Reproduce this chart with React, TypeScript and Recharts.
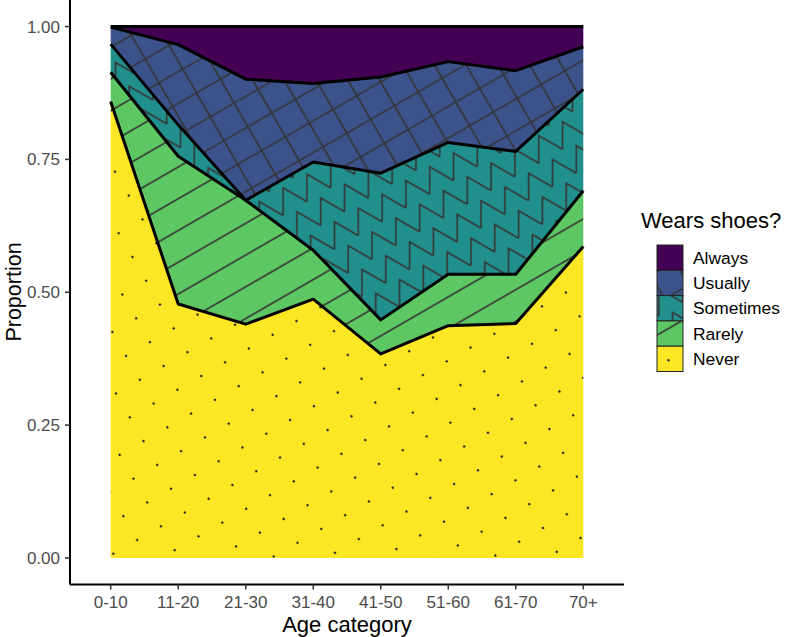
import { Area, AreaChart, XAxis, YAxis } from "recharts";

const ages = ["0-10", "11-20", "21-30", "31-40", "41-50", "51-60", "61-70", "70+"];

// proportions per age category, stacked bottom-up
const never = [0.859, 0.478, 0.44, 0.487, 0.384, 0.437, 0.441, 0.586];
const rarely = [0.055, 0.278, 0.233, 0.092, 0.064, 0.097, 0.093, 0.105];
const sometimes = [0.053, 0.059, 0.0, 0.166, 0.276, 0.248, 0.231, 0.191];
const usually = [0.032, 0.151, 0.228, 0.148, 0.181, 0.152, 0.152, 0.08];
const always = [0.001, 0.034, 0.099, 0.107, 0.095, 0.066, 0.083, 0.038];

const yTicks = [0, 0.25, 0.5, 0.75, 1];

const levels = [
  { key: "never", label: "Never", color: "#FDE725" },
  { key: "rarely", label: "Rarely", color: "#5DC863" },
  { key: "sometimes", label: "Sometimes", color: "#21908C" },
  { key: "usually", label: "Usually", color: "#3B528B" },
  { key: "always", label: "Always", color: "#440154" },
];

const data = ages.map((age, i) => ({
  age,
  never: never[i],
  rarely: rarely[i],
  sometimes: sometimes[i],
  usually: usually[i],
  always: always[i],
}));

const FONT = "'Liberation Sans', Arial, Helvetica, sans-serif";
const S = 27.5;
const H = S / 2;
const LINE = "#333333";

function Patterns({ prefix }: { prefix: string }) {
  const t = "rotate(-30)";
  return (
    <defs>
      <pattern id={`${prefix}-usually`} patternUnits="userSpaceOnUse" width={S} height={S} patternTransform={t}>
        <rect width={S} height={S} fill="#3B528B" />
        <path d={`M0 ${H}H${S}M${H} 0V${S}`} stroke={LINE} strokeWidth={1.6} fill="none" />
      </pattern>
      <pattern id={`${prefix}-sometimes`} patternUnits="userSpaceOnUse" width={S} height={S} patternTransform={t}>
        <rect width={S} height={S} fill="#21908C" />
        <path d={`M0 25.6L${H} 1.9L${S} 25.6`} stroke={LINE} strokeWidth={1.6} fill="none" />
      </pattern>
      <pattern id={`${prefix}-rarely`} patternUnits="userSpaceOnUse" width={S} height={S} patternTransform={t}>
        <rect width={S} height={S} fill="#5DC863" />
        <path d={`M0 ${H}H${S}`} stroke={LINE} strokeWidth={1.6} fill="none" />
      </pattern>
      <pattern id={`${prefix}-never`} patternUnits="userSpaceOnUse" width={S} height={S} patternTransform={t}>
        <rect width={S} height={S} fill="#FDE725" />
        <circle cx={H} cy={H} r={1.2} fill="#222" />
      </pattern>
    </defs>
  );
}

const fillFor = (prefix: string, key: string, color: string) =>
  key === "always" ? color : `url(#${prefix}-${key})`;

export default function App() {
  const legendRows = [...levels].reverse();
  return (
    <div style={{ position: "absolute", left: 0, top: 0, width: 797, height: 637, background: "#fff" }}>
      <AreaChart
        width={797}
        height={637}
        data={data}
        margin={{ top: 0, right: 173, bottom: 0, left: 0 }}
        style={{ fontFamily: FONT }}
      >
        <Patterns prefix="p" />
        <XAxis
          dataKey="age"
          padding={{ left: 40.7, right: 40.7 }}
          height={52.5}
          tickSize={5}
          tickMargin={6}
          axisLine={{ stroke: "#000", strokeWidth: 2 }}
          tickLine={{ stroke: "#333", strokeWidth: 1.5 }}
          tick={{ fill: "#4D4D4D", fontSize: 17 }}
          interval={0}
        />
        <YAxis
          width={70}
          domain={[-0.05, 1.05]}
          ticks={yTicks}
          allowDataOverflow
          tickFormatter={(v: number) => v.toFixed(2)}
          tickSize={5}
          tickMargin={5}
          axisLine={{ stroke: "#000", strokeWidth: 2 }}
          tickLine={{ stroke: "#333", strokeWidth: 1.5 }}
          tick={{ fill: "#4D4D4D", fontSize: 17 }}
        />
        {levels.map((l) => (
          <Area
            key={`f-${l.key}`}
            type="linear"
            dataKey={l.key}
            stackId="fill"
            fill={fillFor("p", l.key, l.color)}
            fillOpacity={1}
            stroke="none"
            dot={false}
            activeDot={false}
            isAnimationActive={false}
          />
        ))}
        {levels.map((l) => (
          <Area
            key={`o-${l.key}`}
            type="linear"
            dataKey={l.key}
            stackId="outline"
            fill="none"
            stroke="#000"
            strokeWidth={3}
            strokeLinejoin="round"
            dot={false}
            activeDot={false}
            isAnimationActive={false}
          />
        ))}
      </AreaChart>
      <svg
        width={797}
        height={637}
        style={{ position: "absolute", left: 0, top: 0, pointerEvents: "none", fontFamily: FONT }}
      >
        <Patterns prefix="lg" />
        <text x={347} y={632} textAnchor="middle" fontSize={22} fill="#000">
          Age category
        </text>
        <text x={21} y={292} textAnchor="middle" fontSize={21.5} fill="#000" transform="rotate(-90 21 292)">
          Proportion
        </text>
        <text x={641} y={228} fontSize={22} fill="#000">
          Wears shoes?
        </text>
        {legendRows.map((l, i) => {
          const y = 245 + i * 25.3;
          return (
            <g key={l.key}>
              <rect x={657} y={y} width={26} height={25.3} fill={fillFor("lg", l.key, l.color)} stroke="#222" strokeWidth={1} />
              <text x={693} y={y + 12.65} dy="0.35em" fontSize={17.4} fill="#000">
                {l.label}
              </text>
            </g>
          );
        })}
      </svg>
    </div>
  );
}
